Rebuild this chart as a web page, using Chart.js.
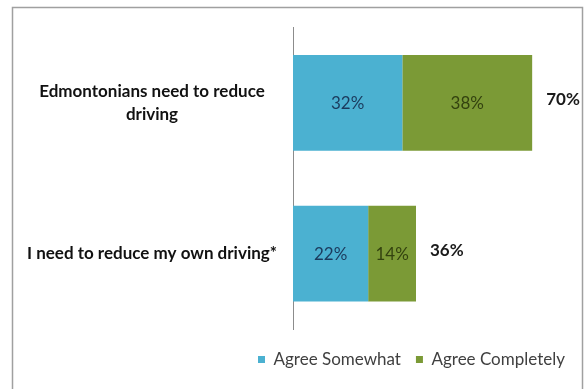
<!DOCTYPE html>
<html>
<head>
<meta charset="utf-8">
<script src="https://cdn.jsdelivr.net/npm/chart.js@4/dist/chart.umd.min.js"></script>
<style>
  html, body { margin: 0; padding: 0; background: #fff; }
  #wrap { position: relative; width: 585px; height: 389px; }
</style>
</head>
<body>
<div id="wrap"><canvas id="drivingChart" width="585" height="389"></canvas></div>
<script>
var categories = [['Edmontonians need to reduce', 'driving'], 'I need to reduce my own driving*'];
var agreeSomewhat = [32, 22];
var agreeCompletely = [38, 14];
var seriesNames = ['Agree Somewhat', 'Agree Completely'];

var FONT = 'Lato, "Liberation Sans", sans-serif';

// frame around the whole chart
var framePlugin = {
    id: 'frame',
    beforeDraw: function(chart) {
        var ctx = chart.ctx;
        ctx.save();
        ctx.fillStyle = '#ffffff';
        ctx.fillRect(0, 0, chart.width, chart.height);
        ctx.strokeStyle = '#a0a0a0';
        ctx.lineWidth = 1.5;
        ctx.strokeRect(12.5, 7.5, 570, 400);
        ctx.restore();
    }
};

// percentages inside the segments and the totals after each bar
var valueLabels = {
    id: 'valueLabels',
    afterDatasetsDraw: function(chart) {
        var ctx = chart.ctx;
        var textColors = ['#1b3a5c', '#33420f'];
        ctx.save();
        ctx.textBaseline = 'middle';
        chart.data.datasets.forEach(function(ds, di) {
            var meta = chart.getDatasetMeta(di);
            meta.data.forEach(function(bar, i) {
                ctx.font = '17px ' + FONT;
                ctx.fillStyle = textColors[di];
                ctx.textAlign = 'center';
                ctx.fillText(ds.data[i] + '%', (bar.x + bar.base) / 2, bar.y + 1);
            });
        });
        var last = chart.getDatasetMeta(chart.data.datasets.length - 1);
        last.data.forEach(function(bar, i) {
            var total = agreeSomewhat[i] + agreeCompletely[i];
            ctx.font = 'bold 17px ' + FONT;
            ctx.fillStyle = '#1a1a1a';
            ctx.textAlign = 'left';
            ctx.fillText(total + '%', bar.x + 14, bar.y - 3);
        });
        ctx.restore();
    }
};

var ctx = document.getElementById('drivingChart').getContext('2d');
var drivingChart = new Chart(ctx, {
    type: 'bar',
    data: {
        labels: categories,
        datasets: [{
            label: seriesNames[0],
            data: agreeSomewhat,
            backgroundColor: '#4bb1d1',
            barPercentage: 0.635,
            categoryPercentage: 1
        }, {
            label: seriesNames[1],
            data: agreeCompletely,
            backgroundColor: '#7b9a36',
            barPercentage: 0.635,
            categoryPercentage: 1
        }]
    },
    options: {
        indexAxis: 'y',
        responsive: false,
        animation: false,
        layout: { padding: { left: 12, top: 27, right: 5, bottom: 11 } },
        scales: {
            x: {
                stacked: true,
                min: 0,
                max: 84,
                grid: { display: false },
                border: { display: false },
                ticks: { display: false },
                afterFit: function(scale) { scale.height = 7; }
            },
            y: {
                stacked: true,
                grid: { display: false, drawTicks: false },
                border: { display: true, color: '#8c8c8c', width: 1 },
                ticks: {
                    crossAlign: 'center',
                    padding: 16,
                    color: '#111',
                    font: { family: FONT, size: 17, weight: 'bold', lineHeight: 1.35 }
                },
                afterFit: function(scale) { scale.width = 281; }
            }
        },
        plugins: {
            legend: {
                position: 'bottom',
                align: 'end',
                labels: {
                    boxWidth: 7,
                    boxHeight: 7,
                    padding: 15,
                    color: '#404040',
                    font: { family: FONT, size: 17 }
                }
            },
            tooltip: { enabled: false }
        }
    },
    plugins: [framePlugin, valueLabels]
});
</script>
</body>
</html>
